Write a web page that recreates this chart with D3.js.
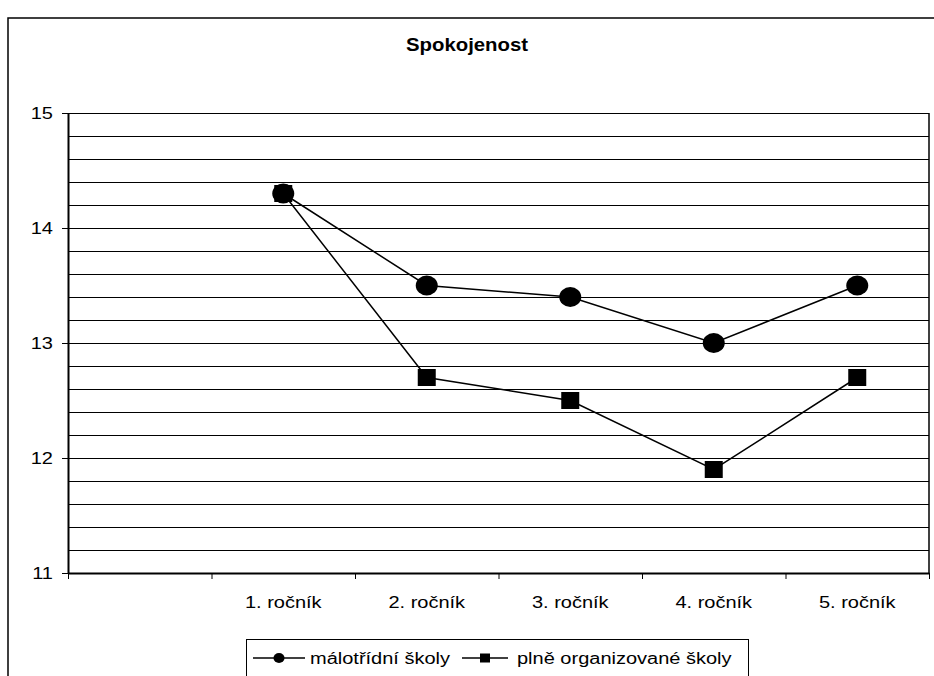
<!DOCTYPE html>
<html>
<head>
<meta charset="utf-8">
<script src="https://cdn.jsdelivr.net/npm/d3@7"></script>
<style>
  html, body { margin: 0; padding: 0; background: #fff; }
  svg { display: block; }
  text { font-family: "Liberation Sans", Arial, sans-serif; fill: #000; }
</style>
</head>
<body>
<svg id="chart" width="934" height="676"></svg>
<script>
// ---- data ----
const title = "Spokojenost";
const categories = ["", "1. ročník", "2. ročník", "3. ročník", "4. ročník", "5. ročník"];
const seriesNames = ["málotřídní školy", "plně organizované školy"];
const malotridni = [null, 14.3, 13.5, 13.4, 13.0, 13.5];
const plneOrganizovane = [null, 14.3, 12.7, 12.5, 11.9, 12.7];
const yTicks = [11, 12, 13, 14, 15];
const yDomain = [11, 15];
const gridStep = 0.2;

// ---- layout ----
const svg = d3.select("#chart");
const pLeft = 68, pRight = 929, pTop = 113, pBottom = 573;
const sx = 1.25; // horizontal text stretch as in reference

const x = d3.scaleBand().domain(categories).range([pLeft, pRight]).paddingInner(0).paddingOuter(0);
const xb = d3.scaleLinear().domain([0, categories.length]).range([pLeft, pRight]);
const y = d3.scaleLinear().domain(yDomain).range([pBottom, pTop]);

// outer chart border (extends beyond viewport on right/bottom)
svg.append("rect")
  .attr("x", 8).attr("y", 18).attr("width", 1000).attr("height", 1000)
  .attr("fill", "none").attr("stroke", "#000").attr("stroke-width", 1.5);

// title
svg.append("text")
  .attr("x", 0).attr("y", 51)
  .attr("transform", `translate(467,0) scale(1.1,1)`)
  .attr("text-anchor", "middle")
  .attr("font-weight", "bold").attr("font-size", 18.5)
  .text(title);

// grid lines
const gridVals = d3.range(Math.round((yDomain[1] - yDomain[0]) / gridStep) + 1)
  .map(i => +(yDomain[0] + i * gridStep).toFixed(2));
svg.append("g").selectAll("line").data(gridVals).join("line")
  .attr("x1", pLeft).attr("x2", pRight)
  .attr("y1", d => Math.round(y(d)) + 0.5).attr("y2", d => Math.round(y(d)) + 0.5)
  .attr("stroke", "#000").attr("stroke-width", 1)
  .attr("shape-rendering", "crispEdges");

// right plot border
svg.append("line")
  .attr("x1", pRight).attr("x2", pRight).attr("y1", pTop).attr("y2", pBottom)
  .attr("stroke", "#000").attr("stroke-width", 1.5);

// y axis
const yAxis = svg.append("g")
  .attr("transform", `translate(${pLeft},0)`)
  .call(d3.axisLeft(y).tickValues(yTicks).tickFormat(d3.format("d")).tickSize(6).tickSizeOuter(0));
yAxis.select(".domain").attr("stroke", "#000").attr("stroke-width", 2);
yAxis.selectAll(".tick line").attr("stroke", "#000");
yAxis.selectAll("text")
  .attr("x", 0)
  .attr("transform", `translate(-15,0) scale(${sx},1)`)
  .attr("font-size", 16)
  .style("font-family", '"Liberation Sans", Arial, sans-serif');

// x axis: boundary ticks
const xTickAxis = svg.append("g")
  .attr("transform", `translate(0,${pBottom})`)
  .call(d3.axisBottom(xb).tickValues(d3.range(categories.length + 1)).tickFormat("").tickSize(6).tickSizeOuter(0));
xTickAxis.select(".domain").attr("stroke", "#000").attr("stroke-width", 2);
xTickAxis.selectAll(".tick line").attr("stroke", "#000");

// x axis: category labels
const xLabelAxis = svg.append("g")
  .attr("transform", `translate(0,${pBottom})`)
  .call(d3.axisBottom(x).tickSize(0).tickPadding(24));
xLabelAxis.select(".domain").remove();
xLabelAxis.selectAll("text")
  .attr("transform", `scale(${sx},1)`)
  .attr("font-size", 16)
  .style("font-family", '"Liberation Sans", Arial, sans-serif');

// series
const cx = (i) => x(categories[i]) + x.bandwidth() / 2;
const line = d3.line()
  .defined(d => d.v !== null)
  .x(d => cx(d.i)).y(d => y(d.v));
const toPts = arr => arr.map((v, i) => ({ v, i }));

const plPts = toPts(plneOrganizovane);
const maPts = toPts(malotridni);

svg.append("path").datum(plPts).attr("d", line)
  .attr("fill", "none").attr("stroke", "#000").attr("stroke-width", 1.5);
svg.append("path").datum(maPts).attr("d", line)
  .attr("fill", "none").attr("stroke", "#000").attr("stroke-width", 1.5);

svg.append("g").selectAll("rect").data(plPts.filter(d => d.v !== null)).join("rect")
  .attr("x", d => cx(d.i) - 9).attr("y", d => y(d.v) - 8.5)
  .attr("width", 18).attr("height", 17).attr("fill", "#000");

svg.append("g").selectAll("ellipse").data(maPts.filter(d => d.v !== null)).join("ellipse")
  .attr("cx", d => cx(d.i)).attr("cy", d => y(d.v))
  .attr("rx", 11).attr("ry", 10).attr("fill", "#000");

// legend
const lg = svg.append("g");
lg.append("rect")
  .attr("x", 246.5).attr("y", 639.5).attr("width", 502).attr("height", 60)
  .attr("fill", "#fff").attr("stroke", "#000").attr("stroke-width", 1);

const legendItems = [
  { name: seriesNames[0], x0: 253, x1: 305, text: 310, marker: "circle" },
  { name: seriesNames[1], x0: 462, x1: 508, text: 517, marker: "square" }
];
const ly = 658;
legendItems.forEach(it => {
  lg.append("line").attr("x1", it.x0).attr("x2", it.x1).attr("y1", ly).attr("y2", ly)
    .attr("stroke", "#000").attr("stroke-width", 1.5);
  const mx = (it.x0 + it.x1) / 2;
  if (it.marker === "circle") {
    lg.append("ellipse").attr("cx", mx).attr("cy", ly).attr("rx", 5.5).attr("ry", 5).attr("fill", "#000");
  } else {
    lg.append("rect").attr("x", mx - 5).attr("y", ly - 4.5).attr("width", 10).attr("height", 9).attr("fill", "#000");
  }
  lg.append("text")
    .attr("x", 0).attr("y", ly + 6)
    .attr("transform", `translate(${it.text},0) scale(${sx},1)`)
    .attr("font-size", 16)
    .text(it.name);
});
</script>
</body>
</html>
